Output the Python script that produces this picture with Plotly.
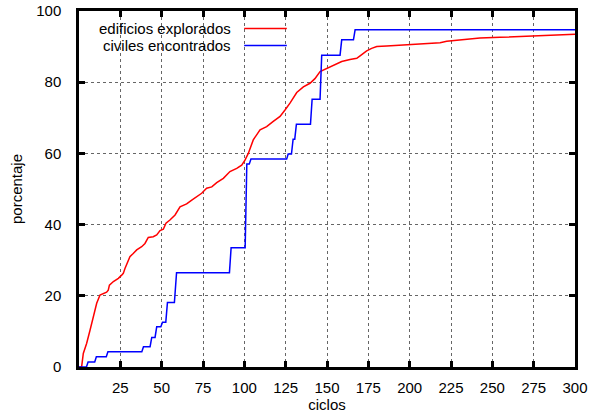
import plotly.graph_objects as go

# ciclos / porcentaje — edificios explorados (red)
red_x = [0, 1.6, 2.6, 4.6, 6.7, 8.7, 10.7, 12.7, 14.7, 16.7,
         17.7, 18.4, 20.8, 23.8, 25.8, 26.8, 27.8, 29.8, 30.8, 32.8,
         34.9, 37.9, 39.9, 41.9, 44.9, 47.0, 49.0, 51.0, 52.6, 55.0,
         58.1, 61.1, 65.1, 68.2, 71.2, 74.2, 77.2, 80.3, 83.3, 87.3,
         91.3, 95.4, 98.4, 100.4, 102.4, 105.4, 109.5, 113.5, 117.5, 121.6,
         124.6, 127.6, 131.7, 135.7, 139.7, 142.7, 145.8, 149.8, 153.8, 158.9,
         163.9, 168.0, 170.0, 172.0, 174.0, 177.0, 180.1, 186.1, 194.2, 206.3,
         218.4, 222.4, 230.4, 242.5, 254.6, 274.8, 290.9, 300]
red_y = [0, 0.1, 3.8, 6.6, 10.4, 14.1, 17.9, 20.2, 20.7, 21.0,
         21.6, 23.0, 24.0, 24.9, 25.8, 26.3, 27.7, 29.6, 31.0, 31.9,
         32.9, 33.8, 34.7, 36.4, 36.6, 37.1, 38.3, 38.7, 40.4, 41.3,
         42.7, 45.0, 45.8, 46.9, 47.8, 48.8, 50.2, 50.6, 51.8, 53.0,
         54.9, 55.8, 56.7, 58.1, 60.0, 63.8, 66.6, 67.5, 69.0, 70.4,
         72.2, 74.1, 77.1, 78.7, 79.7, 81.0, 83.0, 83.9, 84.8, 85.8,
         86.4, 86.7, 87.4, 88.1, 88.8, 89.5, 90.0, 90.2, 90.4, 90.7,
         91.1, 91.5, 91.9, 92.4, 92.6, 93.0, 93.4, 93.5]

# civiles encontrados (blue)
blue_x = [0, 1.5, 4.5, 5.5, 9.5, 10.5, 16.5, 17.5, 38, 39, 43, 44, 46, 47,
          49.5, 50.5, 52.5, 53.5, 57.7, 59, 91, 92, 100.5, 101.5, 103, 104,
          125.6, 126.5, 128.5, 129.5, 130.5, 131.5, 140, 141, 145.8, 146.8,
          157.9, 158.9, 166, 167, 300]
blue_y = [0, 0, 0, 1.4, 1.4, 2.9, 2.9, 4.3, 4.3, 5.7, 5.7, 8.3, 8.3, 11.3,
          11.3, 12.6, 12.6, 18.1, 18.1, 26.5, 26.5, 33.5, 33.5, 57.0, 57.0, 58.4,
          58.4, 59.8, 59.8, 64.0, 64.0, 68.2, 68.2, 75.2, 75.2, 87.6,
          87.6, 91.9, 91.9, 94.7, 94.7]

x_ticks = [25, 50, 75, 100, 125, 150, 175, 200, 225, 250, 275, 300]
y_ticks = [0, 20, 40, 60, 80, 100]
series_names = ["edificios explorados", "civiles encontrados"]
series_colors = ["#ff0000", "#0000ff"]

FONT = "Liberation Sans, Arial, sans-serif"
FS = 15

fig = go.Figure()
fig.add_trace(go.Scatter(x=red_x, y=red_y, mode="lines", name=series_names[0],
                         line=dict(color=series_colors[0], width=1.5)))
fig.add_trace(go.Scatter(x=blue_x, y=blue_y, mode="lines", name=series_names[1],
                         line=dict(color=series_colors[1], width=1.5)))

axis_common = dict(
    showline=True, linecolor="black", linewidth=2.5, mirror="ticks",
    ticks="inside", ticklen=6, tickwidth=2.5, tickcolor="black",
    showgrid=True, gridcolor="#666666", griddash="dot", gridwidth=1,
    zeroline=False, automargin=False,
    tickfont=dict(family=FONT, size=FS, color="black"),
)

fig.update_layout(
    width=592, height=418,
    margin=dict(l=79, r=17, t=11, b=51),
    paper_bgcolor="white", plot_bgcolor="white",
    showlegend=False,
    font=dict(family=FONT, size=FS, color="black"),
    xaxis=dict(range=[0, 300], tickvals=x_ticks, ticklabelstandoff=5,
               title=dict(text="ciclos", standoff=5,
                          font=dict(family=FONT, size=FS, color="black")),
               **axis_common),
    yaxis=dict(range=[0, 100], tickvals=y_ticks, ticklabelstandoff=12,
               title=dict(text="porcentaje", standoff=10,
                          font=dict(family=FONT, size=FS, color="black")),
               **axis_common),
)

# gnuplot-style key: text right-aligned, line sample to its right
key_y = [0.9508, 0.9031]
for name, color, ky in zip(series_names, series_colors, key_y):
    fig.add_annotation(x=0.3105, y=ky, xref="paper", yref="paper",
                       text=name, showarrow=False, xanchor="right", yanchor="middle",
                       font=dict(family=FONT, size=FS, color="black"))
    fig.add_shape(type="line", xref="paper", yref="paper",
                  x0=0.333, x1=0.419, y0=ky, y1=ky,
                  line=dict(color=color, width=1.5))

fig.write_html("out.html")
